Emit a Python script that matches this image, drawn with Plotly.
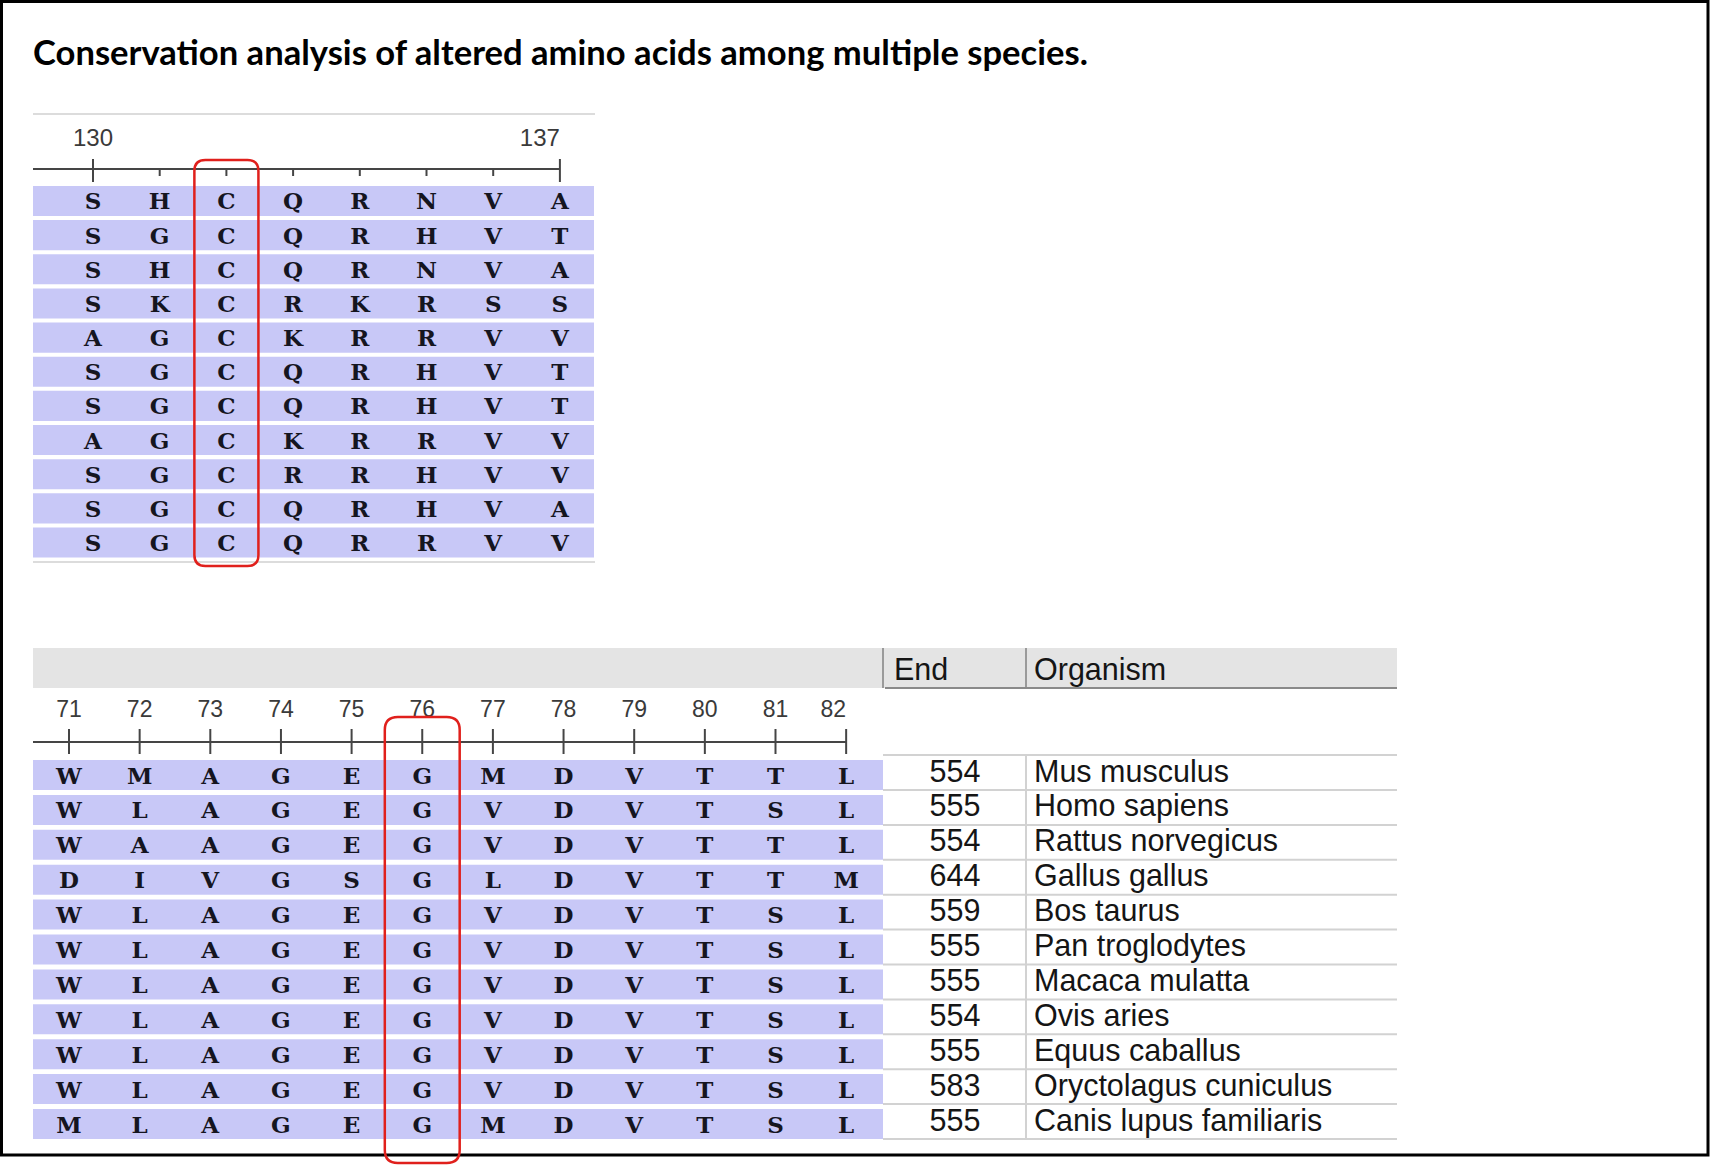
import plotly.graph_objects as go

# ---- data ----
top_positions = list(range(130, 138))
top_tick_text = ["130", "", "", "", "", "", "", "137"]
top_seqs = ["SHCQRNVA", "SGCQRHVT", "SHCQRNVA", "SKCRKRSS", "AGCKRRVV", "SGCQRHVT",
            "SGCQRHVT", "AGCKRRVV", "SGCRRHVV", "SGCQRHVA", "SGCQRRVV"]
top_highlight = 132

bottom_positions = list(range(71, 83))
bottom_tick_text = [str(p) for p in bottom_positions]
bottom_seqs = ["WMAGEGMDVTTL", "WLAGEGVDVTSL", "WAAGEGVDVTTL", "DIVGSGLDVTTM",
               "WLAGEGVDVTSL", "WLAGEGVDVTSL", "WLAGEGVDVTSL", "WLAGEGVDVTSL",
               "WLAGEGVDVTSL", "WLAGEGVDVTSL", "MLAGEGMDVTSL"]
bottom_highlight = 76

end_vals = [554, 555, 554, 644, 559, 555, 555, 554, 555, 583, 555]
organisms = ["Mus musculus", "Homo sapiens", "Rattus norvegicus", "Gallus gallus",
             "Bos taurus", "Pan troglodytes", "Macaca mulatta", "Ovis aries",
             "Equus caballus", "Oryctolagus cuniculus", "Canis lupus familiaris"]

title = "Conservation analysis of altered amino acids among multiple species."

W, H = 1711, 1166
BAND = "#c8c8f7"
RED = "#e0201c"
AXC = "#454545"
LETTER = "DejaVu Serif, Courier New, serif"
SANS = "Liberation Sans, Arial, sans-serif"
TABLE_SIZE = 30.5
NUDGE = 0.08  # letters sit a touch below the row centre


def px_x(p):
    return p / W


def px_y(p):
    return 1 - p / H


# pixel geometry of the two alignment blocks
T_X0, T_DX, T_Y0, T_DY = 93, 66.7, 201, 34.15
T_LEFT, T_RIGHT, T_TOP, T_BOT = 33, 598, 105, 575
B_X0, B_DX, B_Y0, B_DY = 69, 70.65, 775, 34.9
B_LEFT, B_RIGHT, B_TOP, B_BOT = 33, 883, 600, 1166
R_LEFT, R_RIGHT = 883, 1397


def tx(p):
    return top_positions[0] + (p - T_X0) / T_DX


def ty(p):
    return (p - T_Y0) / T_DY


def bx(p):
    return bottom_positions[0] + (p - B_X0) / B_DX


def by(p):
    return (p - B_Y0) / B_DY


def rx(p):
    return (p - R_LEFT) / (R_RIGHT - R_LEFT)


def rounded_path(x0, x1, y0, y1, ddx, ddy):
    return (f"M {x0 + ddx},{y0} L {x1 - ddx},{y0} Q {x1},{y0} {x1},{y0 + ddy} "
            f"L {x1},{y1 - ddy} Q {x1},{y1} {x1 - ddx},{y1} L {x0 + ddx},{y1} "
            f"Q {x0},{y1} {x0},{y1 - ddy} L {x0},{y0 + ddy} Q {x0},{y0} {x0 + ddx},{y0} Z")


fig = go.Figure()

# ---- top block letters ----
xs, ys, ts = [], [], []
for r, seq in enumerate(top_seqs):
    for p, aa in zip(top_positions, seq):
        xs.append(p)
        ys.append(r + NUDGE)
        ts.append("<b>" + aa + "</b>")
fig.add_trace(go.Scatter(x=xs, y=ys, text=ts, mode="text", cliponaxis=False,
                         textfont=dict(family=LETTER, size=23, color="#15151f"),
                         hoverinfo="skip", showlegend=False, xaxis="x", yaxis="y"))

# top ruler
line_y = ty(169)
tick_x, tick_y = [], []
for p, lab in zip(top_positions, top_tick_text):
    if lab:
        tick_x += [p, p, None]
        tick_y += [ty(159), ty(182), None]
    else:
        tick_x += [p, p, None]
        tick_y += [line_y, ty(176), None]
tick_x += [tx(33), top_positions[-1]]
tick_y += [line_y, line_y]
fig.add_trace(go.Scatter(x=tick_x, y=tick_y, mode="lines", line=dict(color=AXC, width=2),
                         hoverinfo="skip", showlegend=False, xaxis="x", yaxis="y"))
lab_p = [p for p, l in zip(top_positions, top_tick_text) if l]
lab_t = [l for l in top_tick_text if l]
fig.add_trace(go.Scatter(x=lab_p, y=[ty(140)] * len(lab_p), text=lab_t, mode="text",
                         textposition=["middle center"] * (len(lab_p) - 1) + ["middle left"],
                         cliponaxis=False, textfont=dict(family=SANS, size=24, color="#3a3a3a"),
                         hoverinfo="skip", showlegend=False, xaxis="x", yaxis="y"))

# ---- bottom block letters ----
xs, ys, ts = [], [], []
for r, seq in enumerate(bottom_seqs):
    for p, aa in zip(bottom_positions, seq):
        xs.append(p)
        ys.append(r + NUDGE)
        ts.append("<b>" + aa + "</b>")
fig.add_trace(go.Scatter(x=xs, y=ys, text=ts, mode="text", cliponaxis=False,
                         textfont=dict(family=LETTER, size=23, color="#15151f"),
                         hoverinfo="skip", showlegend=False, xaxis="x2", yaxis="y2"))

line_y2 = by(742)
tick_x, tick_y = [], []
for p in bottom_positions:
    tick_x += [p, p, None]
    tick_y += [by(729), by(754), None]
tick_x += [bx(33), bottom_positions[-1]]
tick_y += [line_y2, line_y2]
fig.add_trace(go.Scatter(x=tick_x, y=tick_y, mode="lines", line=dict(color=AXC, width=2),
                         hoverinfo="skip", showlegend=False, xaxis="x2", yaxis="y2"))
fig.add_trace(go.Scatter(x=bottom_positions, y=[by(711)] * len(bottom_positions),
                         text=bottom_tick_text, mode="text",
                         textposition=["middle center"] * (len(bottom_positions) - 1) + ["middle left"],
                         cliponaxis=False, textfont=dict(family=SANS, size=23, color="#3a3a3a"),
                         hoverinfo="skip", showlegend=False, xaxis="x2", yaxis="y2"))

# ---- End / Organism table ----
rows = list(range(len(organisms)))
fig.add_trace(go.Scatter(x=[rx(955)] * len(rows), y=[r - 0.03 for r in rows],
                         text=[str(v) for v in end_vals], mode="text", cliponaxis=False,
                         textfont=dict(family=SANS, size=TABLE_SIZE, color="#151515"),
                         hoverinfo="skip", showlegend=False, xaxis="x3", yaxis="y2"))
fig.add_trace(go.Scatter(x=[rx(1034)] * len(rows), y=[r - 0.03 for r in rows],
                         text=organisms, mode="text", textposition="middle right",
                         cliponaxis=False,
                         textfont=dict(family=SANS, size=TABLE_SIZE, color="#151515"),
                         hoverinfo="skip", showlegend=False, xaxis="x3", yaxis="y2"))

shapes = []
# alignment bands
for r in range(len(top_seqs)):
    shapes.append(dict(type="rect", xref="x", yref="y", x0=tx(33), x1=tx(594),
                       y0=r - 0.44, y1=r + 0.44, fillcolor=BAND, line_width=0, layer="below"))
for r in range(len(bottom_seqs)):
    shapes.append(dict(type="rect", xref="x2", yref="y2", x0=bx(33), x1=bx(883),
                       y0=r - 0.43, y1=r + 0.43, fillcolor=BAND, line_width=0, layer="below"))

# light frame lines of the top block
for yy in (114, 562):
    shapes.append(dict(type="line", xref="paper", yref="paper", x0=px_x(33), x1=px_x(595),
                       y0=px_y(yy), y1=px_y(yy), line=dict(color="#dcdcdc", width=2)))

# header bar
shapes.append(dict(type="rect", xref="paper", yref="paper", x0=px_x(33), x1=px_x(1397),
                   y0=px_y(688), y1=px_y(648), fillcolor="#e4e4e4", line_width=0, layer="below"))
for xx in (883, 1026):
    shapes.append(dict(type="line", xref="paper", yref="paper", x0=px_x(xx), x1=px_x(xx),
                       y0=px_y(688), y1=px_y(648), line=dict(color="#9a9a9a", width=2)))
shapes.append(dict(type="line", xref="paper", yref="paper", x0=px_x(885), x1=px_x(1397),
                   y0=px_y(688), y1=px_y(688), line=dict(color="#8a8a8a", width=2)))

# table grid
for r in range(-1, len(organisms)):
    shapes.append(dict(type="line", xref="x3", yref="y2", x0=0, x1=1,
                       y0=r + 0.43, y1=r + 0.43, line=dict(color="#d2d2d2", width=2)))
shapes.append(dict(type="line", xref="x3", yref="y2", x0=rx(1026), x1=rx(1026),
                   y0=-0.57, y1=len(organisms) - 0.57, line=dict(color="#d2d2d2", width=2)))

# outer frame
shapes.append(dict(type="rect", xref="paper", yref="paper", x0=px_x(1.5), x1=px_x(1708),
                   y0=px_y(1155), y1=px_y(1.5), line=dict(color="black", width=3)))

# red highlight boxes around the altered residue
shapes.append(dict(type="path", xref="x", yref="y", line=dict(color=RED, width=2.5),
                   path=rounded_path(top_highlight - 0.48, top_highlight + 0.48,
                                     ty(160), ty(566), 11 / T_DX, 11 / T_DY)))
shapes.append(dict(type="path", xref="x2", yref="y2", line=dict(color=RED, width=2.5),
                   path=rounded_path(bottom_highlight - 0.53, bottom_highlight + 0.53,
                                     by(717), by(1163), 13 / B_DX, 13 / B_DY)))

annotations = [
    dict(text="<b>" + title + "</b>", xref="paper", yref="paper", x=px_x(31), y=px_y(51),
         xanchor="left", yanchor="middle", showarrow=False,
         font=dict(family="Lato, Carlito, Calibri, sans-serif", size=34.6, color="black")),
    dict(text="End", xref="paper", yref="paper", x=px_x(892), y=px_y(669),
         xanchor="left", yanchor="middle", showarrow=False,
         font=dict(family=SANS, size=TABLE_SIZE, color="#151515")),
    dict(text="Organism", xref="paper", yref="paper", x=px_x(1032), y=px_y(669),
         xanchor="left", yanchor="middle", showarrow=False,
         font=dict(family=SANS, size=TABLE_SIZE, color="#151515")),
]

fig.update_layout(
    width=W, height=H, margin=dict(l=0, r=0, t=0, b=0),
    paper_bgcolor="white", plot_bgcolor="white",
    shapes=shapes, annotations=annotations, showlegend=False,
    xaxis=dict(domain=[px_x(T_LEFT), px_x(T_RIGHT)], range=[tx(T_LEFT), tx(T_RIGHT)],
               visible=False, anchor="y", fixedrange=True),
    yaxis=dict(domain=[px_y(T_BOT), px_y(T_TOP)], range=[ty(T_BOT), ty(T_TOP)],
               visible=False, anchor="x", fixedrange=True),
    xaxis2=dict(domain=[px_x(B_LEFT), px_x(B_RIGHT)], range=[bx(B_LEFT), bx(B_RIGHT)],
                visible=False, anchor="y2", fixedrange=True),
    yaxis2=dict(domain=[px_y(B_BOT), px_y(B_TOP)], range=[by(B_BOT), by(B_TOP)],
                visible=False, anchor="x2", fixedrange=True),
    xaxis3=dict(domain=[px_x(R_LEFT), px_x(R_RIGHT)], range=[0, 1],
                visible=False, anchor="y2", fixedrange=True),
)

# the page body has a default 8px margin; drop it so the figure sits flush
fig.write_html("out.html", config={"displayModeBar": False},
               post_script="document.body.style.margin = '0';")
